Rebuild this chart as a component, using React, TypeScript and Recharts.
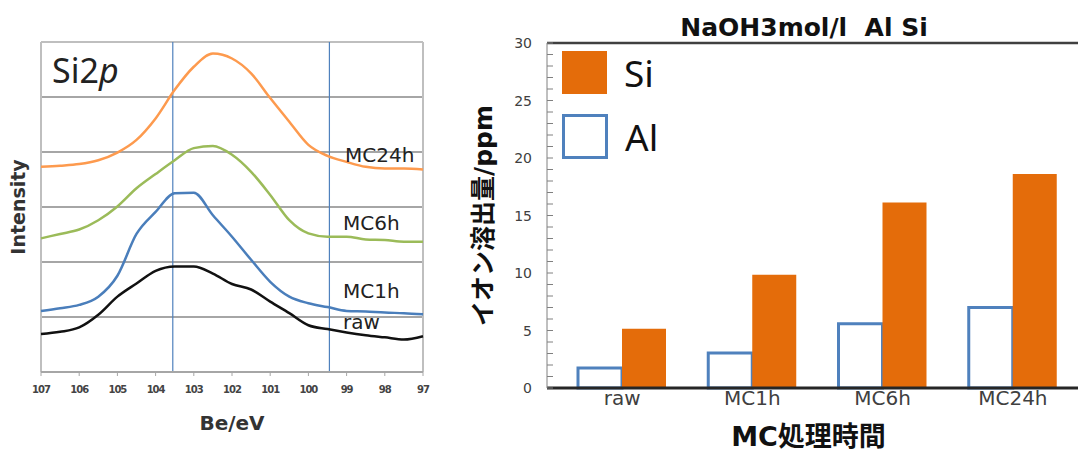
import {
  Bar,
  BarChart,
  Legend,
  Line,
  LineChart,
  ReferenceLine,
  XAxis,
  YAxis,
} from "recharts";

// Si2p XPS spectra (binding energy, eV) — intensities in grid units, stacked offsets included
const BE_EV = [107, 106.5, 106, 105.5, 105, 104.5, 104, 103.5, 103, 102.5, 102, 101.5, 101, 100.5, 100, 99.5, 99, 98.5, 98, 97.5, 97];
const MC24H = [3.73, 3.75, 3.78, 3.85, 3.99, 4.22, 4.61, 5.13, 5.55, 5.79, 5.7, 5.43, 4.98, 4.55, 4.13, 3.93, 3.82, 3.73, 3.7, 3.7, 3.68];
const MC6H = [2.43, 2.51, 2.59, 2.76, 3.01, 3.34, 3.6, 3.85, 4.07, 4.11, 3.95, 3.64, 3.22, 2.76, 2.52, 2.46, 2.46, 2.41, 2.4, 2.37, 2.37];
const MC1H = [1.11, 1.16, 1.22, 1.37, 1.75, 2.51, 2.91, 3.25, 3.26, 2.85, 2.46, 2.04, 1.64, 1.37, 1.25, 1.18, 1.11, 1.1, 1.08, 1.07, 1.05];
const RAW = [0.69, 0.73, 0.81, 1.04, 1.37, 1.61, 1.84, 1.92, 1.92, 1.79, 1.6, 1.5, 1.28, 1.07, 0.85, 0.78, 0.72, 0.67, 0.63, 0.59, 0.65];
const EV_TICKS = [107, 106, 105, 104, 103, 102, 101, 100, 99, 98, 97];
const GRID_TICKS = [1, 2, 3, 4, 5, 6];
const PEAK_MARKS = [103.55, 99.45];

// NaOH 3mol/l leaching
const CATEGORIES = ["raw", "MC1h", "MC6h", "MC24h"];
const AL_PPM = [1.74, 3.04, 5.59, 7.01];
const SI_PPM = [5.16, 9.85, 16.14, 18.6];
const PPM_MAJOR = [0, 5, 10, 15, 20, 25, 30];

const SI_COLOR = "#e46c0a";
const AL_COLOR = "#4f81bd";
const FONT = "'DejaVu Sans', 'Noto Sans CJK JP', sans-serif";

const spectra = BE_EV.map((ev, i) => ({
  ev,
  mc24h: MC24H[i],
  mc6h: MC6H[i],
  mc1h: MC1H[i],
  raw: RAW[i],
}));

const leach = CATEGORIES.map((cat, i) => ({ cat, Al: AL_PPM[i], Si: SI_PPM[i] }));

const ppmTicks: number[] = [];
for (let v = 0; v <= 30; v++) ppmTicks.push(v);

function PpmTick(props: any) {
  const { x, y, payload } = props;
  const v = payload.value as number;
  return (
    <g>
      <line x1={x + 15} x2={x + 21} y1={y} y2={y} stroke="#808080" />
      {PPM_MAJOR.includes(v) && (
        <text x={x} y={y} dy={5} textAnchor="end" fontSize={14} fill="#404040" fontFamily={FONT}>
          {v}
        </text>
      )}
    </g>
  );
}

function BarLegend() {
  const items = [
    { name: "Si", fill: SI_COLOR, stroke: SI_COLOR },
    { name: "Al", fill: "#fff", stroke: AL_COLOR },
  ];
  return (
    <div style={{ display: "flex", flexDirection: "column", gap: 20 }}>
      {items.map((it) => (
        <div key={it.name} style={{ display: "flex", alignItems: "center", height: 44 }}>
          <div
            style={{
              width: it.name === "Al" ? 40 : 45,
              height: it.name === "Al" ? 39 : 43,
              background: it.fill,
              border: it.name === "Al" ? `3px solid ${it.stroke}` : "none",
            }}
          />
          <span style={{ marginLeft: 17, fontSize: 37, fontFamily: "'Noto Sans', sans-serif", color: "#111", lineHeight: 1 }}>
            {it.name}
          </span>
        </div>
      ))}
    </div>
  );
}

export default function App() {
  return (
    <div style={{ position: "absolute", left: 0, top: 0, width: 1078, height: 455, background: "#fff", overflow: "hidden" }}>
      <div style={{ position: "absolute", left: 0, top: 0 }}>
        <LineChart width={440} height={455} data={spectra} margin={{ top: 42, right: 17, bottom: 0, left: 0 }}>
          <XAxis
            dataKey="ev"
            type="number"
            domain={[97, 107]}
            reversed
            ticks={EV_TICKS}
            height={83}
            tickSize={4}
            tickMargin={10}
            axisLine={{ stroke: "#a6a6a6", strokeWidth: 2 }}
            tickLine={{ stroke: "#a6a6a6" }}
            tick={{ fontSize: 10, fontWeight: "bold", fill: "#444", fontFamily: FONT, letterSpacing: -1 }}
            label={{
              content: (p: any) => (
                <text
                  x={p.viewBox.x + p.viewBox.width / 2}
                  y={430}
                  textAnchor="middle"
                  fontSize={20}
                  fontWeight="bold"
                  fill="#333"
                  fontFamily={FONT}
                >
                  Be/eV
                </text>
              ),
            }}
          />
          <YAxis
            type="number"
            domain={[0, 6]}
            ticks={[0, ...GRID_TICKS]}
            width={41}
            tick={false}
            tickLine={false}
            axisLine={false}
            label={{
              content: (p: any) => (
                <text
                  transform={`translate(${25}, ${p.viewBox.y + p.viewBox.height / 2}) rotate(-90)`}
                  textAnchor="middle"
                  fontSize={19}
                  fontWeight="bold"
                  fill="#333"
                  fontFamily={FONT}
                >
                  Intensity
                </text>
              ),
            }}
          />
          {GRID_TICKS.map((v) => (
            <ReferenceLine key={`g${v}`} y={v} stroke={v === 6 ? "#bfbfbf" : "#a6a6a6"} strokeWidth={2} />
          ))}
          <ReferenceLine x={107} stroke="#bfbfbf" strokeWidth={2} />
          <ReferenceLine x={97} stroke="#bfbfbf" strokeWidth={2} />
          {PEAK_MARKS.map((ev) => (
            <ReferenceLine key={ev} x={ev} stroke={AL_COLOR} strokeWidth={1.2} />
          ))}
          <Line type="monotone" dataKey="raw" stroke="#111" strokeWidth={2.5} dot={false} isAnimationActive={false} />
          <Line type="monotone" dataKey="mc1h" stroke="#4a7ebb" strokeWidth={2.5} dot={false} isAnimationActive={false} />
          <Line type="monotone" dataKey="mc6h" stroke="#9bbb59" strokeWidth={2.5} dot={false} isAnimationActive={false} />
          <Line type="monotone" dataKey="mc24h" stroke="#fd9a4e" strokeWidth={2.5} dot={false} isAnimationActive={false} />
        </LineChart>
      </div>

      <div style={{ position: "absolute", left: 440, top: 0 }}>
        <BarChart width={638} height={455} data={leach} margin={{ top: 43, right: 0, bottom: 0, left: 0 }} barSize={44} barGap={0}>
          <XAxis
            dataKey="cat"
            height={67}
            padding={{ left: 10, right: 0 }}
            tickLine={false}
            tickSize={0}
            tickMargin={3}
            axisLine={{ stroke: "#262626", strokeWidth: 3 }}
            tick={{ fontSize: 20, fill: "#404040", fontFamily: FONT }}
            label={{
              content: (p: any) => (
                <text
                  x={p.viewBox.x + p.viewBox.width / 2 - 4}
                  y={p.viewBox.y + 58}
                  textAnchor="middle"
                  fontSize={27}
                  fontWeight="bold"
                  fill="#111"
                  fontFamily={FONT}
                >
                  MC処理時間
                </text>
              ),
            }}
          />
          <YAxis
            type="number"
            domain={[0, 30]}
            ticks={ppmTicks}
            interval={0}
            width={107}
            tickLine={false}
            tickSize={0}
            tickMargin={15}
            axisLine={{ stroke: "#808080" }}
            tick={<PpmTick />}
            label={{
              content: (p: any) => (
                <text
                  transform={`translate(${52}, ${p.viewBox.y + p.viewBox.height / 2}) rotate(-90)`}
                  textAnchor="middle"
                  fontSize={25}
                  fontWeight="bold"
                  fill="#111"
                  fontFamily={FONT}
                >
                  イオン溶出量/ppm
                </text>
              ),
            }}
          />
          <ReferenceLine y={30} stroke="#404040" strokeWidth={2.5} />
          <Legend
            layout="vertical"
            align="center"
            verticalAlign="middle"
            content={<BarLegend />}
            wrapperStyle={{ left: 122, top: 50, width: 130 }}
          />
          <Bar dataKey="Al" name="Al" fill="#fff" stroke={AL_COLOR} strokeWidth={3} isAnimationActive={false} />
          <Bar dataKey="Si" name="Si" fill={SI_COLOR} isAnimationActive={false} />
        </BarChart>
      </div>

      <svg width={1078} height={455} style={{ position: "absolute", left: 0, top: 0, pointerEvents: "none" }}>
        <text x={52} y={83} fontSize={34} fontFamily="'Noto Sans', sans-serif" fill="#222">
          Si2<tspan fontStyle="italic">p</tspan>
        </text>
        <g fontSize={20} fontFamily={FONT} fill="#222">
          <text x={345} y={162}>MC24h</text>
          <text x={343} y={230}>MC6h</text>
          <text x={343} y={298}>MC1h</text>
          <text x={343} y={329}>raw</text>
        </g>
        <text x={804} y={36} textAnchor="middle" fontSize={25} fontWeight="bold" fontFamily={FONT} fill="#111">
          {"NaOH3mol/l\u00a0\u00a0Al Si"}
        </text>
      </svg>
    </div>
  );
}
